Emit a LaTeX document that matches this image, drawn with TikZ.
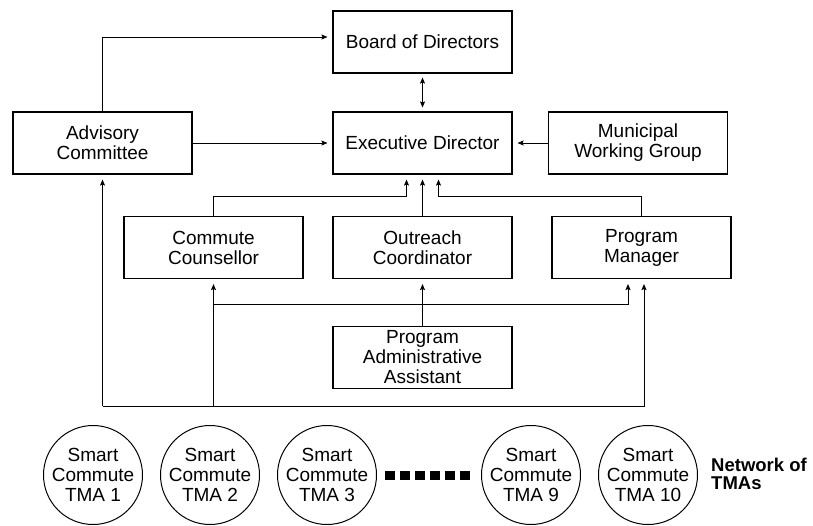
\documentclass[tikz,border=0pt]{standalone}
\usepackage{fontspec}
\setmainfont{Liberation Sans}
\usetikzlibrary{arrows.meta}
\begin{document}
\begin{tikzpicture}[x=1pt,y=-1pt,
  box/.style={draw,line width=1.1pt,minimum width=179pt,minimum height=62pt,inner sep=0pt,align=center,font=\fontsize{19}{20}\selectfont},
  tma/.style={draw,circle,line width=1pt,minimum size=99pt,inner sep=0pt,align=center,font=\fontsize{19}{20}\selectfont},
  tip/.tip={Stealth[length=6pt,width=5pt,inset=1pt]},
  arr/.style={line width=0.9pt,-tip,shorten >=5pt}]
\useasboundingbox (0,0) rectangle (813,525);
\node[box] (board) at (422.5,42) {Board of Directors};
\node[box] (exec) at (422.5,143) {Executive Director};
\node[box] (advisory) at (102.5,143) {Advisory\\Committee};
\node[box] (municipal) at (638,143) {Municipal\\Working Group};
\node[box] (counsellor) at (213.5,247.5) {Commute\\Counsellor};
\node[box] (outreach) at (422.5,247.5) {Outreach\\Coordinator};
\node[box] (manager) at (641.5,247.5) {Program\\Manager};
\node[box] (assistant) at (422.5,357.5) {Program\\Administrative\\Assistant};
\node[tma] (tma1) at (93,475) {Smart\\Commute\\TMA 1};
\node[tma] (tma2) at (210,475) {Smart\\Commute\\TMA 2};
\node[tma] (tma3) at (327,475) {Smart\\Commute\\TMA 3};
\node[tma] (tma9) at (531,475) {Smart\\Commute\\TMA 9};
\node[tma] (tma10) at (648,475) {Smart\\Commute\\TMA 10};
\node[anchor=west,align=left,inner sep=0pt,font=\bfseries\fontsize{18.5}{18}\selectfont] (network) at (711,474) {Network of\\TMAs};
\coordinate (mid) at (0,304);
\coordinate (bus) at (0,406);
\draw[arr] (advisory.north) |- ([yshift=5pt]board.west);
\draw[arr] (advisory.east) -- (exec.west);
\draw[arr] (municipal.west) -- (exec.east);
\draw[arr,tip-tip,shorten <=4pt,shorten >=4pt] (board.south) -- (exec.north);
\draw[arr] (counsellor.north) -- ++(0,-20) -| ([xshift=-16pt]exec.south);
\draw[arr] (outreach.north) -- (exec.south);
\draw[arr] (manager.north) -- ++(0,-20) -| ([xshift=16pt]exec.south);
\draw[arr] (assistant.north) -- (outreach.south);
\draw[arr] (counsellor.south |- mid) -| ([xshift=-13.5pt]manager.south);
\draw[arr] (counsellor.south |- bus) -- (counsellor.south);
\draw[arr] (advisory.south |- bus) -- (advisory.south);
\draw[arr] (advisory.south |- bus) -| ([xshift=2.5pt]manager.south);
\draw[line width=9pt,dash pattern=on 10pt off 5pt,shorten <=8pt,shorten >=11pt] (tma3.east) -- (tma9.west);
\end{tikzpicture}
\end{document}
